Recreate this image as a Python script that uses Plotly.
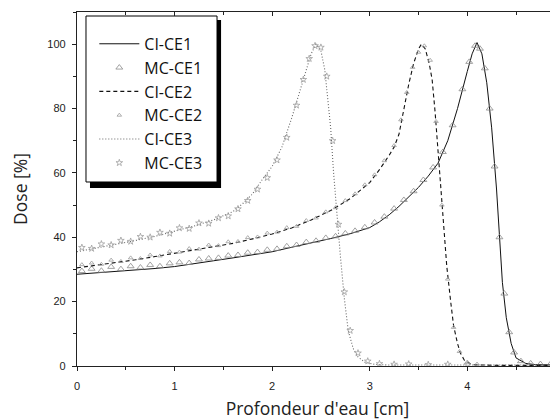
import plotly.graph_objects as go

# ---- data (depth in cm, dose in %) ----
ci_ce1_depth = [0.0, 0.2, 0.4, 0.6, 0.8, 1.0, 1.2, 1.4, 1.6, 1.8, 2.0, 2.2, 2.4, 2.6, 2.8,
                3.0, 3.1, 3.2, 3.3, 3.4, 3.5, 3.6, 3.7, 3.8, 3.9, 4.0, 4.05, 4.1, 4.15,
                4.2, 4.25, 4.3, 4.33, 4.36, 4.4, 4.45, 4.5, 4.6, 4.7, 4.8, 4.95]
ci_ce1_dose = [28.5, 28.9, 29.3, 29.8, 30.3, 30.9, 31.7, 32.7, 33.6, 34.5, 35.5, 36.9, 38.2,
               39.6, 41.1, 43.0, 44.8, 47.0, 49.6, 52.5, 55.5, 59.0, 63.0, 70.0, 80.0, 91.5,
               97.0, 100.5, 97.0, 88.0, 74.0, 55.0, 40.0, 26.0, 15.0, 7.0, 2.5, 0.8, 0.4,
               0.3, 0.3]

mc_ce1_depth = [0.05, 0.15, 0.25, 0.35, 0.45, 0.55, 0.65, 0.75, 0.85, 0.95, 1.05, 1.15, 1.25,
                1.35, 1.45, 1.55, 1.65, 1.75, 1.85, 1.95, 2.05, 2.15, 2.25, 2.35, 2.45, 2.55,
                2.65, 2.75, 2.85, 2.95, 3.05, 3.15, 3.25, 3.35, 3.45, 3.55, 3.65, 3.75, 3.85,
                3.95, 4.02, 4.08, 4.13, 4.18, 4.23, 4.28, 4.33, 4.38, 4.43, 4.48, 4.55, 4.65,
                4.75, 4.85]
mc_ce1_dose = [29.5, 30.2, 29.6, 30.8, 30.1, 31.0, 30.6, 31.4, 31.0, 31.9, 32.2, 32.0, 33.1,
               33.4, 33.6, 34.3, 34.5, 35.2, 35.4, 36.1, 36.4, 37.2, 37.6, 38.5, 38.9, 39.8,
               40.3, 41.2, 42.0, 43.1, 44.6, 46.4, 48.9, 51.6, 54.3, 57.8, 61.7, 66.5, 74.8,
               86.0, 94.5, 99.5, 98.6, 92.5, 80.0, 62.0, 40.0, 22.5, 10.5, 4.2, 1.5, 0.8,
               0.6, 0.5]

ci_ce2_depth = [0.0, 0.2, 0.4, 0.6, 0.8, 1.0, 1.2, 1.4, 1.6, 1.8, 2.0, 2.2, 2.4, 2.6, 2.8,
                3.0, 3.1, 3.2, 3.25, 3.3, 3.35, 3.4, 3.45, 3.5, 3.53, 3.57, 3.61, 3.64, 3.67,
                3.7, 3.73, 3.76, 3.79, 3.83, 3.86, 3.9, 3.93, 3.97, 4.05, 4.3, 4.95]
ci_ce2_dose = [30.5, 31.3, 32.1, 33.0, 34.0, 35.0, 36.0, 37.0, 38.1, 39.5, 41.0, 42.9, 45.4,
               48.3, 52.0, 57.0, 61.0, 65.5, 68.0, 72.0, 80.0, 87.5, 94.0, 98.5, 100.0, 98.5,
               94.0, 89.0, 79.0, 68.0, 55.0, 43.0, 31.0, 20.0, 12.5, 7.0, 4.0, 1.8, 0.4,
               0.2, 0.2]

mc_ce2_depth = [0.05, 0.15, 0.25, 0.35, 0.45, 0.55, 0.65, 0.75, 0.85, 0.95, 1.05, 1.15, 1.25,
                1.35, 1.45, 1.55, 1.65, 1.75, 1.85, 1.95, 2.05, 2.15, 2.25, 2.35, 2.45, 2.55,
                2.65, 2.75, 2.85, 2.95, 3.05, 3.15, 3.25, 3.32, 3.38, 3.44, 3.5, 3.56, 3.62,
                3.68, 3.74, 3.8, 3.86, 3.92, 4.0, 4.1]
mc_ce2_dose = [31.5, 32.0, 31.6, 32.9, 32.5, 33.6, 33.4, 34.5, 34.2, 35.6, 35.4, 36.5, 36.3,
               37.6, 37.4, 38.6, 38.7, 39.9, 40.1, 41.3, 41.6, 43.0, 43.4, 45.2, 46.0, 47.9,
               49.2, 51.4, 53.5, 56.3, 59.4, 63.8, 68.5, 76.5, 85.0, 92.8, 97.5, 99.5, 95.0,
               76.0, 50.0, 27.0, 12.0, 4.5, 1.2, 0.6]

ci_ce3_depth = [0.0, 0.2, 0.4, 0.6, 0.8, 1.0, 1.2, 1.4, 1.6, 1.7, 1.8, 1.9, 2.0, 2.1, 2.2,
                2.3, 2.36, 2.4, 2.45, 2.5, 2.54, 2.57, 2.6, 2.63, 2.66, 2.7, 2.74, 2.78, 2.83,
                2.88, 2.95, 3.05, 3.2, 3.6, 4.2, 4.95]
ci_ce3_dose = [35.5, 36.6, 37.8, 39.0, 40.3, 41.8, 43.5, 45.4, 48.0, 50.5, 53.5, 58.0, 62.0,
               68.0, 77.0, 87.0, 93.0, 97.0, 100.0, 98.0, 92.0, 84.0, 74.0, 60.0, 48.0, 34.0,
               21.0, 11.0, 5.5, 2.8, 1.2, 0.5, 0.3, 0.3, 0.3, 0.3]

mc_ce3_depth = [0.05, 0.15, 0.25, 0.35, 0.45, 0.55, 0.65, 0.75, 0.85, 0.95, 1.05, 1.15, 1.25,
                1.35, 1.45, 1.55, 1.65, 1.75, 1.85, 1.95, 2.05, 2.15, 2.25, 2.32, 2.38, 2.44,
                2.5, 2.56, 2.62, 2.68, 2.74, 2.8, 2.88, 2.98, 3.1, 3.25, 3.4, 3.6, 3.8, 4.0]
mc_ce3_dose = [36.8, 36.5, 37.9, 37.6, 39.0, 38.7, 40.2, 40.0, 41.5, 41.2, 42.9, 42.7, 44.4,
               44.3, 46.0, 46.6, 48.8, 51.4, 54.9, 58.5, 64.0, 71.0, 81.0, 89.0, 95.5, 99.5,
               99.0, 90.0, 70.0, 44.0, 23.0, 11.0, 4.0, 1.5, 0.7, 0.5, 0.6, 0.4, 0.5, 0.4]

x_ticks = [0, 1, 2, 3, 4]
y_ticks = [0, 20, 40, 60, 80, 100]

LABEL_FONT = "Open Sans"

fig = go.Figure()

fig.add_trace(go.Scatter(x=ci_ce1_depth, y=ci_ce1_dose, mode="lines", name="CI-CE1",
                         legendgroup="a", line=dict(color="#111111", width=1.0)))
fig.add_trace(go.Scatter(x=mc_ce1_depth, y=mc_ce1_dose, mode="markers", name="MC-CE1",
                         legendgroup="b",
                         marker=dict(symbol="triangle-up-open", size=6, color="#8a8a8a",
                                     line=dict(width=0.8))))
fig.add_trace(go.Scatter(x=ci_ce2_depth, y=ci_ce2_dose, mode="lines", name="CI-CE2",
                         legendgroup="c",
                         line=dict(color="#111111", width=1.1, dash="4px,3px")))
fig.add_trace(go.Scatter(x=mc_ce2_depth, y=mc_ce2_dose, mode="markers", name="MC-CE2",
                         legendgroup="d",
                         marker=dict(symbol="triangle-up-open", size=4, color="#9a9a9a",
                                     line=dict(width=0.8))))
fig.add_trace(go.Scatter(x=ci_ce3_depth, y=ci_ce3_dose, mode="lines", name="CI-CE3",
                         legendgroup="e",
                         line=dict(color="#666666", width=1.1, dash="1px,2px")))
fig.add_trace(go.Scatter(x=mc_ce3_depth, y=mc_ce3_dose, mode="markers", name="MC-CE3",
                         legendgroup="f",
                         marker=dict(symbol="star-open", size=5, color="#a0a0a0",
                                     line=dict(width=0.8))))

# legend box with the drop shadow, drawn under a transparent legend
fig.add_shape(type="rect", xref="paper", yref="paper", layer="below",
              x0=0.0270, x1=0.2995, y0=0.5028, y1=0.9774,
              fillcolor="black", line=dict(width=0))
fig.add_shape(type="rect", xref="paper", yref="paper", layer="below",
              x0=0.0187, x1=0.2911, y0=0.5198, y1=0.9887,
              fillcolor="white", line=dict(color="black", width=1))

# the page adds an 8px body margin, so the figure is 8px smaller than the window
fig.update_layout(
    width=550,
    height=412,
    margin=dict(l=69, r=0, t=4, b=54, autoexpand=False),
    paper_bgcolor="white",
    plot_bgcolor="white",
    font=dict(family="Liberation Sans", color="#222222", size=11),
    showlegend=True,
    legend=dict(x=0.036, y=0.958, xanchor="left", yanchor="top",
                bgcolor="rgba(0,0,0,0)", borderwidth=0,
                font=dict(family=LABEL_FONT, size=16, color="#111111"),
                tracegroupgap=0, itemwidth=40),
    xaxis=dict(range=[0, 4.93], tickvals=x_ticks, ticks="outside", ticklen=4,
               tickcolor="#222222", showline=True, linecolor="#222222", linewidth=1.2,
               showgrid=False, zeroline=False, automargin=False, ticklabelstandoff=6,
               minor=dict(dtick=0.5, ticks="outside", ticklen=3, tickcolor="#222222"),
               title=dict(text="Profondeur d'eau [cm]", standoff=12,
                          font=dict(family=LABEL_FONT, size=17.5, color="#222222"))),
    xaxis2=dict(range=[0, 4.93], overlaying="x", side="top", tickvals=x_ticks,
                ticks="inside", ticklen=4, tickcolor="#222222", showticklabels=False,
                showline=True, linecolor="#222222", linewidth=1.2, showgrid=False,
                zeroline=False, automargin=False,
                minor=dict(dtick=0.5, ticks="inside", ticklen=3, tickcolor="#222222")),
    yaxis=dict(range=[0, 110], tickvals=y_ticks, ticks="outside", ticklen=4,
               tickcolor="#222222", showline=True, linecolor="#222222", linewidth=1.2,
               showgrid=False, zeroline=False, automargin=False, ticklabelstandoff=4,
               minor=dict(dtick=10, ticks="outside", ticklen=3, tickcolor="#222222"),
               title=dict(text="Dose [%]", standoff=16,
                          font=dict(family=LABEL_FONT, size=17.5, color="#222222"))),
)

# invisible trace so the top axis is drawn
fig.add_trace(go.Scatter(x=[0], y=[0], xaxis="x2", mode="markers", showlegend=False,
                         hoverinfo="skip", marker=dict(opacity=0)))

fig.write_html("out.html")
